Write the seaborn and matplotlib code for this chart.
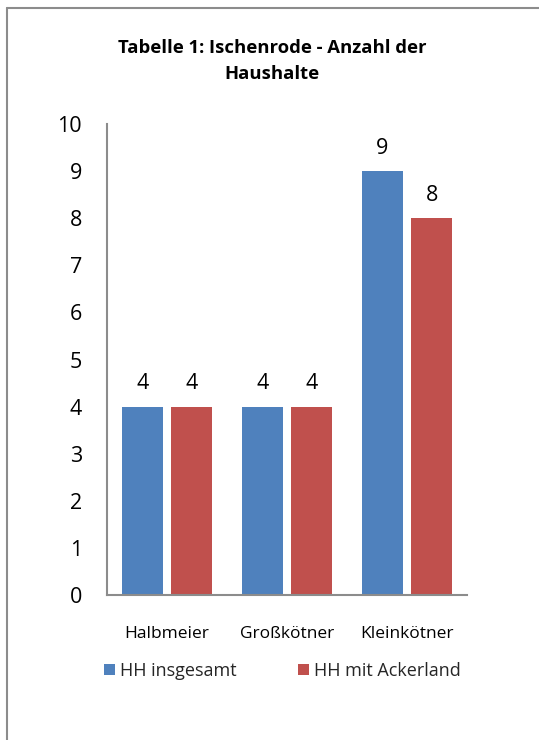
import matplotlib
matplotlib.use("Agg")
import matplotlib.pyplot as plt
import seaborn as sns
import pandas as pd
from matplotlib.lines import Line2D
from matplotlib.patches import Patch

categories = ["Halbmeier", "Großkötner", "Kleinkötner"]
series_names = ["HH insgesamt", "HH mit Ackerland"]
hh_insgesamt = [4, 4, 9]
hh_ackerland = [4, 4, 8]
yticks = [0, 1, 2, 3, 4, 5, 6, 7, 8, 9, 10]
title = "Tabelle 1: Ischenrode - Anzahl der\nHaushalte"
colors = ["#4F81BD", "#C0504D"]

df = pd.DataFrame({
    "cat": categories * 2,
    "series": [series_names[0]] * 3 + [series_names[1]] * 3,
    "val": hh_insgesamt + hh_ackerland,
})

sns.set_theme(style="white")
plt.rcParams["font.family"] = ["Open Sans", "DejaVu Sans"]

W, H = 539, 740
fig = plt.figure(figsize=(W / 100, H / 100), dpi=100)
ax = fig.add_axes([107 / W, 1 - 595 / H, 360 / W, (595 - 124) / H])

sns.barplot(data=df, x="cat", y="val", hue="series", palette=colors,
            width=0.82, gap=0.16, ax=ax, legend=False, saturation=1,
            linewidth=0, edgecolor="none")

ax.set_ylim(0, 10)
ax.set_yticks(yticks)
ax.set_yticklabels([str(t) for t in yticks], fontsize=15.5, color="black")
ax.set_xlim(-0.5, 2.5)
ax.set_xlabel("")
ax.set_ylabel("")
ax.tick_params(axis="x", labelsize=12.5, pad=22, length=0, labelcolor="black")
ax.tick_params(axis="y", pad=18, length=0)
for s in ["top", "right"]:
    ax.spines[s].set_visible(False)
for s in ["left", "bottom"]:
    ax.spines[s].set_color("#8c8c8c")
    ax.spines[s].set_linewidth(1.5)

for cont in ax.containers:
    ax.bar_label(cont, labels=[f"{v:g}" for v in cont.datavalues],
                 padding=9, fontsize=15.5, color="black")

fig.text(272 / W, 1 - 61 / H, title, ha="center", va="center",
         fontsize=13.3, fontweight="bold", linespacing=1.6, color="black")

handles = [Patch(facecolor=c, edgecolor="none") for c in colors]
fig.legend(handles, series_names, loc="center left", bbox_to_anchor=(104 / W, 1 - 671 / H),
           ncol=2, frameon=False, fontsize=13, handlelength=0.61, handleheight=0.61,
           handletextpad=0.28, columnspacing=3.4, borderpad=0, borderaxespad=0)

fig.add_artist(Line2D([7 / W, 7 / W], [0, 1 - 8 / H], transform=fig.transFigure,
                      color="#8c8c8c", lw=1.5))
fig.add_artist(Line2D([7 / W, 1], [1 - 8 / H, 1 - 8 / H], transform=fig.transFigure,
                      color="#8c8c8c", lw=1.5))

fig.savefig("out.png", dpi=100)
